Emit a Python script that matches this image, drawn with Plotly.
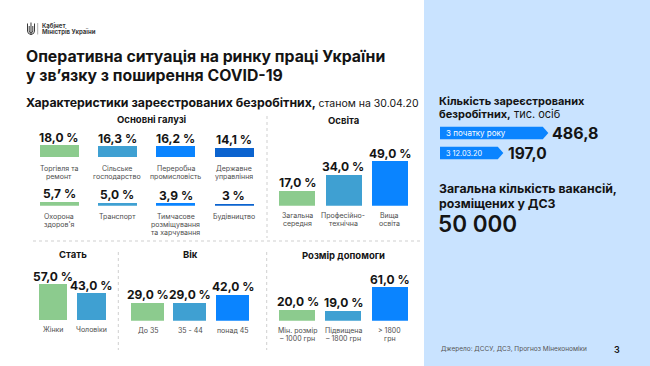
import plotly.graph_objects as go

# ---------------- data ----------------
ind_top_cats = ["Торгівля та<br>ремонт", "Сільське<br>господарство", "Переробна<br>промисловість", "Державне<br>управління"]
ind_top_vals = [18.0, 16.3, 16.2, 14.1]
ind_top_dec = [1, 1, 1, 1]
ind_bot_cats = ["Охорона<br>здоров'я", "Транспорт", "Тимчасове<br>розміщування<br>та харчування", "Будівництво"]
ind_bot_vals = [5.7, 5.0, 3.9, 3.0]
ind_bot_dec = [1, 1, 1, 0]
edu_cats = ["Загальна<br>середня", "Професійно-<br>технічна", "Вища<br>освіта"]
edu_vals = [17.0, 34.0, 49.0]
sex_cats = ["Жінки", "Чоловіки"]
sex_vals = [57.0, 43.0]
age_cats = ["До 35", "35 - 44", "понад 45"]
age_vals = [29.0, 29.0, 42.0]
aid_cats = ["Мін. розмір<br>– 1000 грн", "Підвищена<br>– 1800 грн", "> 1800<br>грн"]
aid_vals = [20.0, 19.0, 61.0]
unemp_labels = ["З початку року", "З 12.03.20"]
unemp_vals = [486.8, 197.0]
vacancies = 50000

# ---------------- style ----------------
W, H = 650, 366
FONT = "Inter"
DARK = "#141414"
GRAY = "#4d4d4d"
PAL = ["#8CCB8E", "#3FA0D2", "#0A84FF", "#0B63CF"]
PANEL = "#C9E3FF"
DOT = "#cfcfcf"


def px(x):
    return x / W


def py(y):
    return 1 - y / H


def fmt(v, d=1):
    return (f"{v:.{d}f}".replace(".", ",")) + " %"


fig = go.Figure()
annotations = []
shapes = []


def ann(x, y, text, size, color=DARK, weight=400, xanchor="left", yanchor="middle"):
    annotations.append(dict(
        x=px(x), y=py(y), xref="paper", yref="paper", text=text, showarrow=False,
        xanchor=xanchor, yanchor=yanchor, borderwidth=0, borderpad=0,
        font=dict(family=FONT, size=size, color=color, weight=weight)))


def add_chart(k, cats, vals, decs, colors, x0, slot, bw, base, scale, lshift):
    n = len(cats)
    xr = "x" if k == 1 else f"x{k}"
    yr = "y" if k == 1 else f"y{k}"
    fig.add_trace(go.Bar(
        x=list(range(n)), y=vals, marker=dict(color=colors, line=dict(width=0)),
        width=bw / slot, xaxis=xr, yaxis=yr, hoverinfo="skip", showlegend=False))
    top = base - 75
    fig.update_layout({
        ("xaxis" if k == 1 else f"xaxis{k}"): dict(
            domain=[px(x0), px(x0 + n * slot)], range=[-0.5, n - 0.5],
            visible=False, anchor=yr, fixedrange=True),
        ("yaxis" if k == 1 else f"yaxis{k}"): dict(
            domain=[py(base), py(top)], range=[0, (base - top) / scale],
            visible=False, anchor=xr, fixedrange=True),
    })
    for i, (v, d) in enumerate(zip(vals, decs)):
        annotations.append(dict(
            x=i, y=v, xref=xr, yref=yr, text=fmt(v, d), showarrow=False,
            xanchor="center", yanchor="bottom", yshift=0.5,
            borderwidth=0, borderpad=0,
            font=dict(family=FONT, size=12, color=DARK, weight=700)))
    for i, c in enumerate(cats):
        for j, line in enumerate(c.split("<br>")):
            annotations.append(dict(
                x=i, y=0, xref=xr, yref=yr, text=line, showarrow=False,
                xanchor="center", yanchor="top", yshift=lshift - j * 8,
                borderwidth=0, borderpad=0,
                font=dict(family=FONT, size=7, color=GRAY)))


# ---------------- charts ----------------
add_chart(1, ind_top_cats, ind_top_vals, ind_top_dec, PAL, 29.85, 58.3, 39, 157, 0.66, -7)
add_chart(2, ind_bot_cats, ind_bot_vals, ind_bot_dec, PAL, 29.85, 58.3, 39, 205.7, 0.66, -6)
add_chart(3, edu_cats, edu_vals, [1, 1, 1], PAL[:3], 273.8, 46.4, 36, 205.7, 0.91, -5)
add_chart(4, sex_cats, sex_vals, [1, 1], PAL[:2], 33.9, 38.2, 28.5, 320, 0.625, -5)
add_chart(5, age_cats, age_vals, [1, 1, 1], PAL[:3], 126.45, 42.5, 33, 320.7, 0.63, -5)
add_chart(6, aid_cats, aid_vals, [1, 1, 1], PAL[:3], 274.4, 46.2, 36, 320.7, 0.55, -5)

# ---------------- right panel ----------------
shapes.append(dict(type="rect", xref="paper", yref="paper", x0=px(424), x1=1, y0=0, y1=1,
                   fillcolor=PANEL, line=dict(width=0), layer="below"))


def pp(x, y):
    return f"{px(x):.5f},{py(y):.5f}"


for (x_end, yc) in [(548.3, 133.0), (503.3, 153.0)]:
    path = (f"M{pp(440, yc - 6.3)} L{pp(x_end - 5.5, yc - 6.3)} L{pp(x_end, yc)} "
            f"L{pp(x_end - 5.5, yc + 6.3)} L{pp(440, yc + 6.3)} Z")
    shapes.append(dict(type="path", xref="paper", yref="paper", path=path,
                       fillcolor="#0A84FF", line=dict(width=0)))

ann(446, 133, unemp_labels[0], 8, "white")
ann(446, 153, unemp_labels[1], 7.3, "white")
ann(551.5, 133, f"{unemp_vals[0]:.1f}".replace(".", ","), 16, DARK, 700)
ann(507.5, 153, f"{unemp_vals[1]:.1f}".replace(".", ","), 15.5, DARK, 700)

ann(439, 101, "Кількість зареєстрованих", 11, DARK, 700)
ann(439, 114.4, "<b>безробітних,</b> тис. осіб", 11, DARK, 400)
ann(439, 188.3, "Загальна кількість вакансій,", 12.3, DARK, 700)
ann(439, 203.3, "розміщених у ДСЗ", 12.3, DARK, 700)
ann(438, 223.5, f"{vacancies:,}".replace(",", " "), 22.5, DARK, 600)

ann(440.5, 349.3, "Джерело: ДССУ, ДСЗ, Прогноз Мінекономіки", 6.5, "#555555")
ann(617, 349.3, "3", 9, DARK, 600, xanchor="center")

# ---------------- titles ----------------
ann(26, 56.2, "Оперативна ситуація на ринку праці України", 15.8, DARK, 700)
ann(26, 75.6, "у зв’язку з поширення COVID-19", 15.8, DARK, 700)
ann(26, 102.8, "Характеристики зареєстрованих безробітних, "
    "<span style='font-weight:400;font-size:10.5px'>станом на 30.04.20</span>", 12.3, DARK, 700)

ann(151.7, 120, "Основні галузі", 9.5, DARK, 700, xanchor="center")
ann(343.3, 120.5, "Освіта", 9.5, DARK, 700, xanchor="center")
ann(73.3, 254.5, "Стать", 9.5, DARK, 700, xanchor="center")
ann(190, 254.5, "Вік", 9.5, DARK, 700, xanchor="center")
ann(343.3, 255, "Розмір допомоги", 9.5, DARK, 700, xanchor="center")

# ---------------- logo ----------------
logo_paths = [
    f"M{pp(27.5, 23.5)} L{pp(27.5, 31)} Q{pp(27.5, 34)} {pp(31, 34.6)} Q{pp(34.5, 34)} {pp(34.5, 31)} L{pp(34.5, 23.5)}",
    f"M{pp(31, 22.5)} L{pp(31, 34.6)}",
    f"M{pp(29.2, 26)} L{pp(29.2, 31)} Q{pp(29.2, 32.6)} {pp(31, 33)}",
    f"M{pp(32.8, 26)} L{pp(32.8, 31)} Q{pp(32.8, 32.6)} {pp(31, 33)}",
]
for p in logo_paths:
    shapes.append(dict(type="path", xref="paper", yref="paper", path=p,
                       line=dict(color="#3a3a3a", width=1)))
shapes.append(dict(type="line", xref="paper", yref="paper", x0=px(37.7), x1=px(37.7),
                   y0=py(23), y1=py(34.5), line=dict(color="#9a9a9a", width=0.8)))
ann(41.5, 25.5, "Кабінет", 6, "#3a3a3a", 700)
ann(41.5, 32, "Міністрів України", 6, "#3a3a3a", 700)

# ---------------- dotted separators ----------------
for (x0, y0, x1, y1) in [(267, 116, 267, 238), (33, 241, 420, 241),
                         (118.3, 252, 118.3, 350), (266.7, 252, 266.7, 350)]:
    shapes.append(dict(type="line", xref="paper", yref="paper", x0=px(x0), x1=px(x1),
                       y0=py(y0), y1=py(y1), line=dict(color=DOT, width=1, dash="dot")))

fig.update_layout(
    width=W, height=H, margin=dict(l=0, r=0, t=0, b=0),
    paper_bgcolor="white", plot_bgcolor="rgba(0,0,0,0)",
    annotations=annotations, shapes=shapes, showlegend=False,
    font=dict(family=FONT, color=DARK), bargap=0,
)
fig.write_html("out.html", config={"displayModeBar": False},
               post_script="document.body.style.margin='0';document.body.style.overflow='hidden';")
